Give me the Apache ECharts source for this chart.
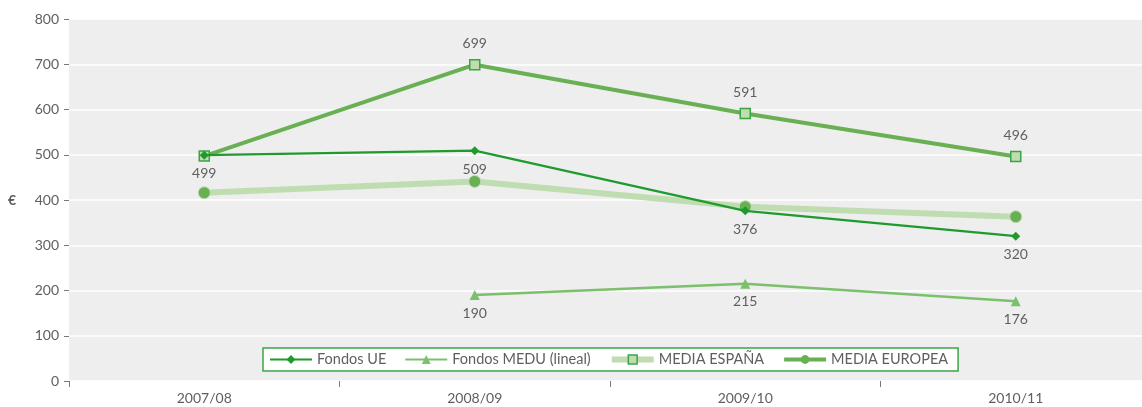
<!DOCTYPE html>
<html>
<head>
<meta charset="utf-8">
<script src="https://cdn.jsdelivr.net/npm/echarts@6/dist/echarts.min.js"></script>
<style>
  html, body { margin: 0; padding: 0; background: #ffffff; overflow: hidden; }
  /* the plot area runs a few pixels past the right edge of the page */
  #chart { width: 1151px; height: 407px; }
</style>
</head>
<body>
<div id="chart"></div>
<script>
// Academic years on the category axis
const years = ['2007/08', '2008/09', '2009/10', '2010/11'];

// Values in euros per series
const fondosUE = [499, 509, 376, 320];
const fondosMEDU = [null, 190, 215, 176];
const mediaEspana = [497, 699, 591, 496];
const mediaEuropea = [416, 441, 385, 363];

// Y axis range
const yMin = 0;
const yMax = 800;
const yStep = 100;

const FONT = 'Lato';
const TEXT = '#5f5f5f';

const labelStyle = { color: TEXT, fontFamily: FONT, fontSize: 14 };

const chart = echarts.init(document.getElementById('chart'), null, { renderer: 'canvas' });

chart.setOption({
  backgroundColor: '#ffffff',
  animation: false,
  textStyle: { fontFamily: FONT },
  grid: {
    left: 69, right: 0, top: 19, bottom: 26,
    show: true, backgroundColor: '#edeeed', borderWidth: 0
  },
  legend: {
    left: 263, top: 348,
    padding: [4, 10, 4, 6],
    backgroundColor: '#ffffff',
    borderColor: '#3aa545', borderWidth: 1.5, borderRadius: 0,
    itemWidth: 42, itemHeight: 11, itemGap: 18,
    textStyle: { color: TEXT, fontFamily: FONT, fontSize: 14.5 },
    data: [
      { name: 'Fondos UE' },
      { name: 'Fondos MEDU (lineal)' },
      {
        name: 'MEDIA ESPAÑA',
        lineStyle: { color: '#c0dcb1', width: 6 },
        itemStyle: { color: '#c0dcb1', borderColor: '#3aa545', borderWidth: 1.5 }
      },
      {
        name: 'MEDIA EUROPEA',
        lineStyle: { color: '#69b055', width: 4 },
        itemStyle: { color: '#69b055', borderWidth: 0 }
      }
    ]
  },
  xAxis: {
    type: 'category',
    data: years,
    boundaryGap: true,
    axisLine: { show: false },
    axisTick: { show: true, length: 6, lineStyle: { color: '#777777', width: 1 } },
    axisLabel: { color: TEXT, fontFamily: FONT, fontSize: 14, margin: 10 },
    splitLine: { show: false }
  },
  yAxis: {
    type: 'value',
    min: yMin, max: yMax, interval: yStep,
    name: '€',
    nameLocation: 'middle',
    nameRotate: 0,
    nameGap: 53,
    nameTextStyle: { color: TEXT, fontFamily: FONT, fontSize: 14, fontWeight: 'bold' },
    axisLine: { show: false },
    axisTick: { show: true, length: 5, lineStyle: { color: '#777777', width: 1 } },
    axisLabel: { color: TEXT, fontFamily: FONT, fontSize: 14, margin: 10, padding: [0, 0, 5, 0] },
    splitLine: { show: true, lineStyle: { color: '#ffffff', width: 1.5 } }
  },
  series: [
    {
      name: 'MEDIA EUROPEA',
      type: 'line',
      data: mediaEuropea,
      z: 2,
      symbol: 'circle',
      symbolSize: 12,
      lineStyle: { color: '#c0dcb1', width: 6 },
      itemStyle: { color: '#69b055', borderColor: '#c0dcb1', borderWidth: 1 },
      label: { show: false }
    },
    {
      name: 'MEDIA ESPAÑA',
      type: 'line',
      data: mediaEspana.map((v, i) => i === 0 ? { value: v, label: { show: false } } : v),
      z: 3,
      symbol: 'rect',
      symbolSize: 10,
      lineStyle: { color: '#69b055', width: 4 },
      itemStyle: { color: '#c0dcb1', borderColor: '#3aa545', borderWidth: 1.5 },
      label: Object.assign({ show: true, position: 'top', distance: 8 }, labelStyle)
    },
    {
      name: 'Fondos MEDU (lineal)',
      type: 'line',
      data: fondosMEDU,
      z: 4,
      symbol: 'triangle',
      symbolSize: 10,
      lineStyle: { color: '#7cbf6c', width: 2.5 },
      itemStyle: { color: '#7cbf6c' },
      label: Object.assign({ show: true, position: 'bottom', distance: 6 }, labelStyle)
    },
    {
      name: 'Fondos UE',
      type: 'line',
      data: fondosUE,
      z: 5,
      symbol: 'diamond',
      symbolSize: 9,
      lineStyle: { color: '#1f9a2e', width: 2.2 },
      itemStyle: { color: '#1f9a2e' },
      label: Object.assign({ show: true, position: 'bottom', distance: 7 }, labelStyle)
    }
  ]
});
</script>
</body>
</html>
